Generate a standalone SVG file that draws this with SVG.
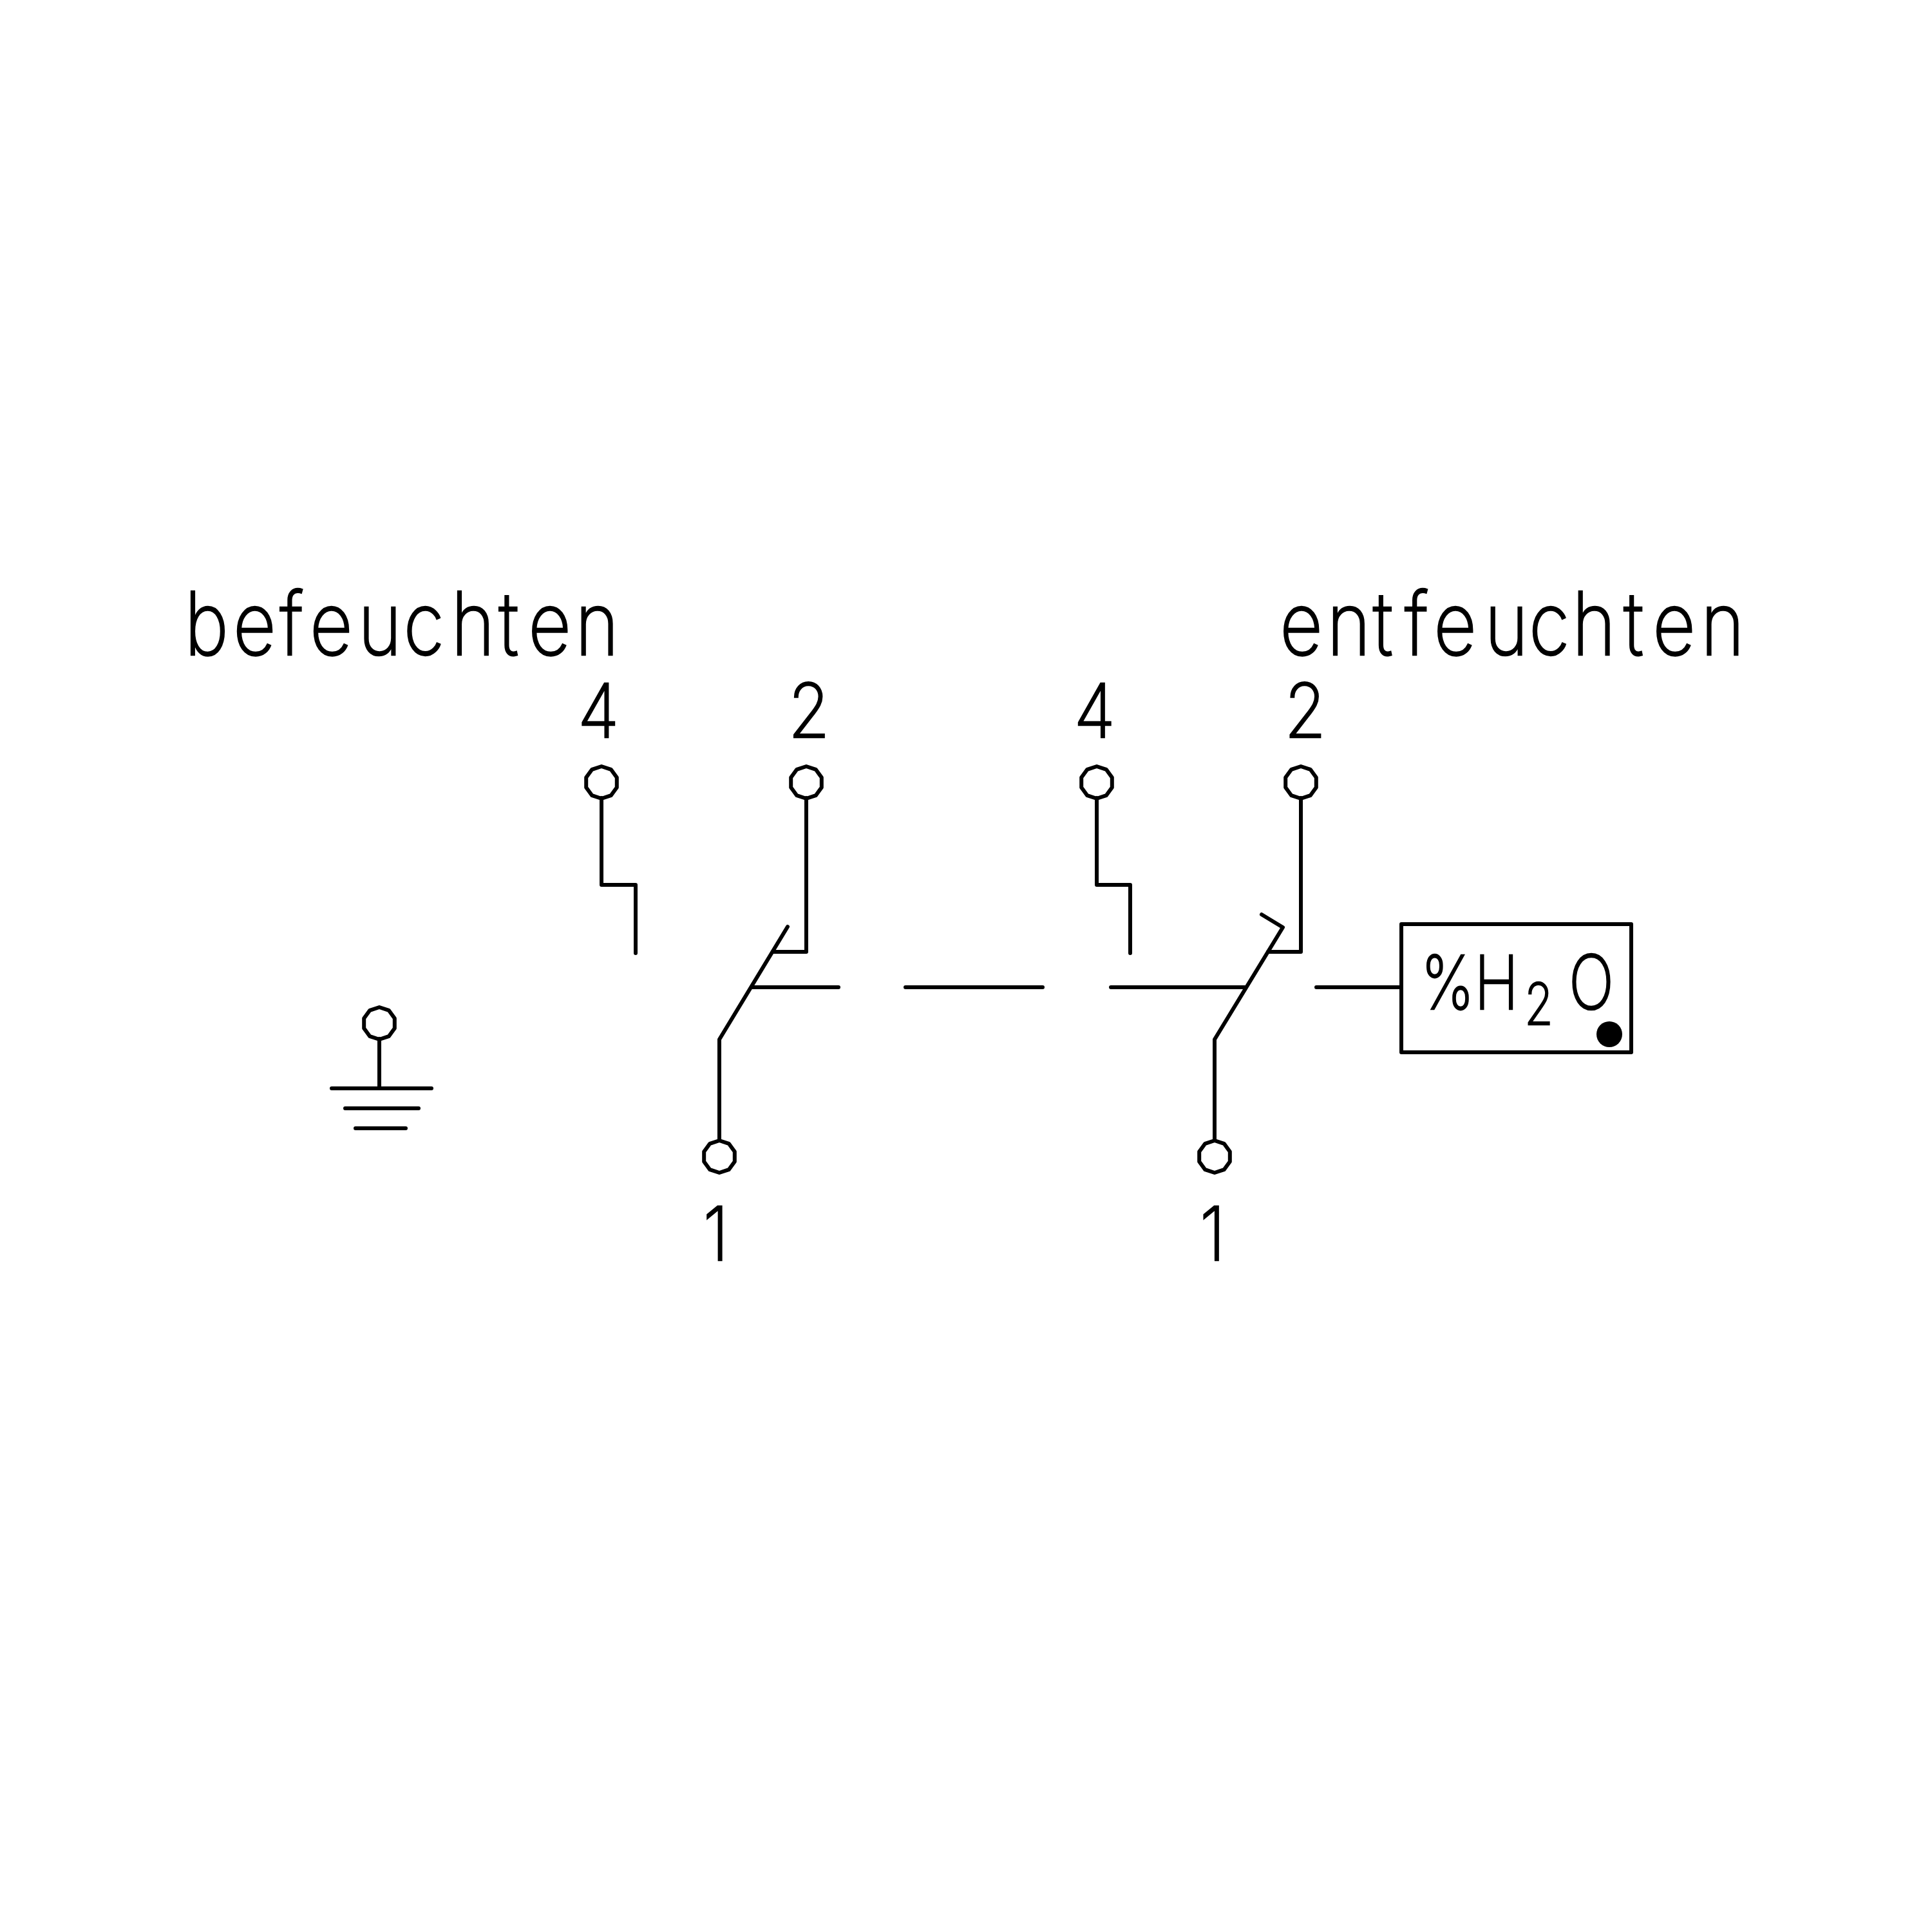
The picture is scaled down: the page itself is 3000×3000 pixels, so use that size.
<svg xmlns="http://www.w3.org/2000/svg" width="3000" height="3000" viewBox="0 0 3000 3000">
<style>
.w{fill:none;stroke:#000;stroke-width:6;stroke-linecap:round;stroke-linejoin:round}
.t{font-family:"Inter","Liberation Sans",sans-serif;font-weight:200;fill:#000;stroke:#000;stroke-width:2.5}
.l{font-size:136px}
.d{font-size:116px}
</style>
<defs>
<polygon id="term" class="w" points="0,-25 14.7,-20.2 23.8,-7.7 23.8,7.7 14.7,20.2 0,25 -14.7,20.2 -23.8,7.7 -23.8,-7.7 -14.7,-20.2"/>
</defs>
<rect width="3000" height="3000" fill="#fff"/>
<g id="connectors">
<path class="w" d="M934 1239V1374H987V1480"/>
<path class="w" d="M1252 1239V1478H1200"/>
<path class="w" d="M1117 1771V1614L1223 1439"/>
<path class="w" d="M1168 1533H1302"/>
<path class="w" d="M1406 1533H1619"/>
<path class="w" d="M1725 1533H1933"/>
<path class="w" d="M1703 1239V1374H1755V1480"/>
<path class="w" d="M2020 1239V1478H1969"/>
<path class="w" d="M1886 1771V1614L1992 1440L1959 1420"/>
<path class="w" d="M2044 1533H2176"/>
<path class="w" d="M589 1613V1690"/>
<path class="w" d="M515 1690H670M536 1721H650M552 1752H630"/>
</g>
<g id="label-befeuchten"><text class="t l" transform="scale(.85 1)" y="1017" x="337 426 511 566 654 737 824 911 965 1051">befeuchten</text></g>
<g id="label-entfeuchten"><text class="t l" transform="scale(.85 1)" y="1017" x="2338 2424 2508 2566 2619 2712 2793 2872 2966 3019 3107">entfeuchten</text></g>
<g id="terminal-4a"><use href="#term" x="934" y="1215"/><text class="t d" transform="scale(.9 1)" x="997" y="1145">4</text></g>
<g id="terminal-2a"><use href="#term" x="1252" y="1215"/><text class="t d" transform="scale(.9 1)" x="1360" y="1145">2</text></g>
<g id="terminal-1a"><use href="#term" x="1117" y="1796"/><text class="t d" transform="scale(.9 1)" x="1213" y="1957">1</text></g>
<g id="terminal-4b"><use href="#term" x="1703" y="1215"/><text class="t d" transform="scale(.9 1)" x="1853" y="1145">4</text></g>
<g id="terminal-2b"><use href="#term" x="2020" y="1215"/><text class="t d" transform="scale(.9 1)" x="2216" y="1145">2</text></g>
<g id="terminal-1b"><use href="#term" x="1886" y="1796"/><text class="t d" transform="scale(.9 1)" x="2070" y="1957">1</text></g>
<g id="terminal-ground"><use href="#term" x="589" y="1589"/></g>
<g id="sensor">
<rect class="w" x="2176" y="1435" width="357" height="199"/>
<text class="t d" transform="scale(.8 1)" y="1567"><tspan x="2758">%</tspan><tspan x="2862">H</tspan><tspan x="2959" y="1591" font-size="90">2</tspan><tspan x="3045" y="1567">O</tspan></text>
<circle cx="2499" cy="1606" r="20" fill="#000"/>
</g>
</svg>
